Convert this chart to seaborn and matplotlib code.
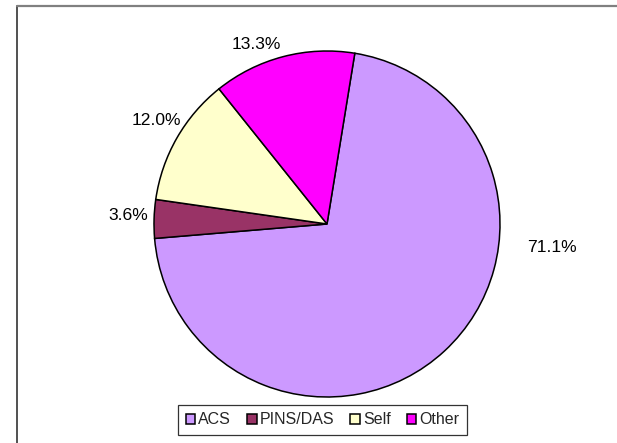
import matplotlib
matplotlib.use("Agg")
import matplotlib.pyplot as plt
import seaborn as sns
from matplotlib.lines import Line2D

sns.set_style("white")
plt.rcParams['font.family'] = ['Liberation Sans', 'DejaVu Sans']

categories = ["ACS", "PINS/DAS", "Self", "Other"]
values = [71.1, 3.6, 12.0, 13.3]
colors = ["#CC99FF", "#993366", "#FFFFCC", "#FF00FF"]
label_texts = [f"{v:.1f}%" for v in values]

W, H = 617, 443
fig = plt.figure(figsize=(W / 100, H / 100), dpi=100)
ax = fig.add_axes([0, 0, 1, 1])

cx, cy, r = 327, H - 224, 173
wedges, _ = ax.pie(values, colors=colors, startangle=80.75, counterclock=False,
                   center=(cx, cy), radius=r,
                   wedgeprops=dict(edgecolor="black", linewidth=1.1))
ax.set_xlim(0, W)
ax.set_ylim(0, H)
ax.set_aspect("auto")
ax.axis("off")

# label positions (pixel coords from top-left)
label_pos = [(552, 247), (128, 215), (156, 120), (256, 44)]
for txt, (x, y) in zip(label_texts, label_pos):
    ax.text(x, H - y, txt, ha="center", va="center", fontsize=12.6, color="black")

leg = fig.legend(wedges, categories, loc="center",
                 bbox_to_anchor=(322.5 / W, 1 - 420 / H), ncol=4,
                 frameon=True, fancybox=False, shadow=False,
                 handlelength=0.58, handleheight=0.58, handletextpad=0.2,
                 columnspacing=1.0, borderpad=0.5, fontsize=11.5)
leg.get_frame().set_edgecolor("black")
leg.get_frame().set_linewidth(0.9)

# outer chart frame (left and top only)
fig.add_artist(Line2D([17 / W, 17 / W], [0, 1 - 6 / H], color="#222222", linewidth=1.1,
                      transform=fig.transFigure))
fig.add_artist(Line2D([17 / W, 1], [1 - 6 / H, 1 - 6 / H], color="#808080", linewidth=1.6,
                      transform=fig.transFigure))

fig.savefig("out.png", dpi=100)
